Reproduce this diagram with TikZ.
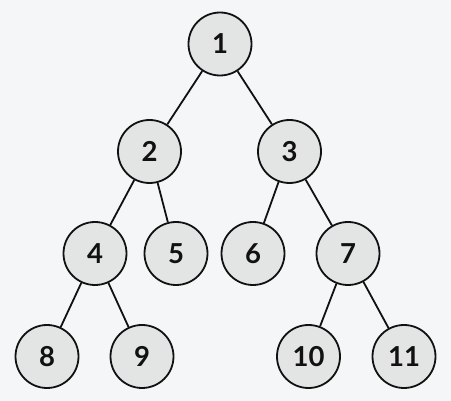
\documentclass[tikz,border=0pt]{standalone}
\usepackage{fontspec}
\setmainfont{Lato}
\definecolor{bgc}{HTML}{F5F6F8}
\definecolor{nodefill}{HTML}{E3E4E4}
\definecolor{ink}{HTML}{111111}
\begin{document}
\begin{tikzpicture}[x=1pt,y=-1pt,
  treenode/.style={circle, draw=ink, fill=nodefill, line width=1.8pt, minimum size=63pt, inner sep=0pt, font=\fontsize{27.5}{27.5}\selectfont\bfseries, text=ink},
  edge/.style={draw=ink, line width=1.8pt}]
\fill[bgc] (0,0) rectangle (451,401);
\useasboundingbox (0,0) rectangle (451,401);
\node[treenode] (n1) at (220,44) {1};
\node[treenode] (n2) at (149.5,151.5) {2};
\node[treenode] (n3) at (289.5,151.5) {3};
\node[treenode] (n4) at (95,253.5) {4};
\node[treenode] (n5) at (176,253.5) {5};
\node[treenode] (n6) at (253,253.5) {6};
\node[treenode] (n7) at (348,253.5) {7};
\node[treenode] (n8) at (47,356.5) {8};
\node[treenode] (n9) at (142,356.5) {9};
\node[treenode] (n10) at (308.5,356.5) {10};
\node[treenode] (n11) at (404,356.5) {11};
\draw[edge] (n1) -- (n2);
\draw[edge] (n1) -- (n3);
\draw[edge] (n2) -- (n4);
\draw[edge] (n2) -- (n5);
\draw[edge] (n3) -- (n6);
\draw[edge] (n3) -- (n7);
\draw[edge] (n4) -- (n8);
\draw[edge] (n4) -- (n9);
\draw[edge] (n7) -- (n10);
\draw[edge] (n7) -- (n11);
\end{tikzpicture}
\end{document}
